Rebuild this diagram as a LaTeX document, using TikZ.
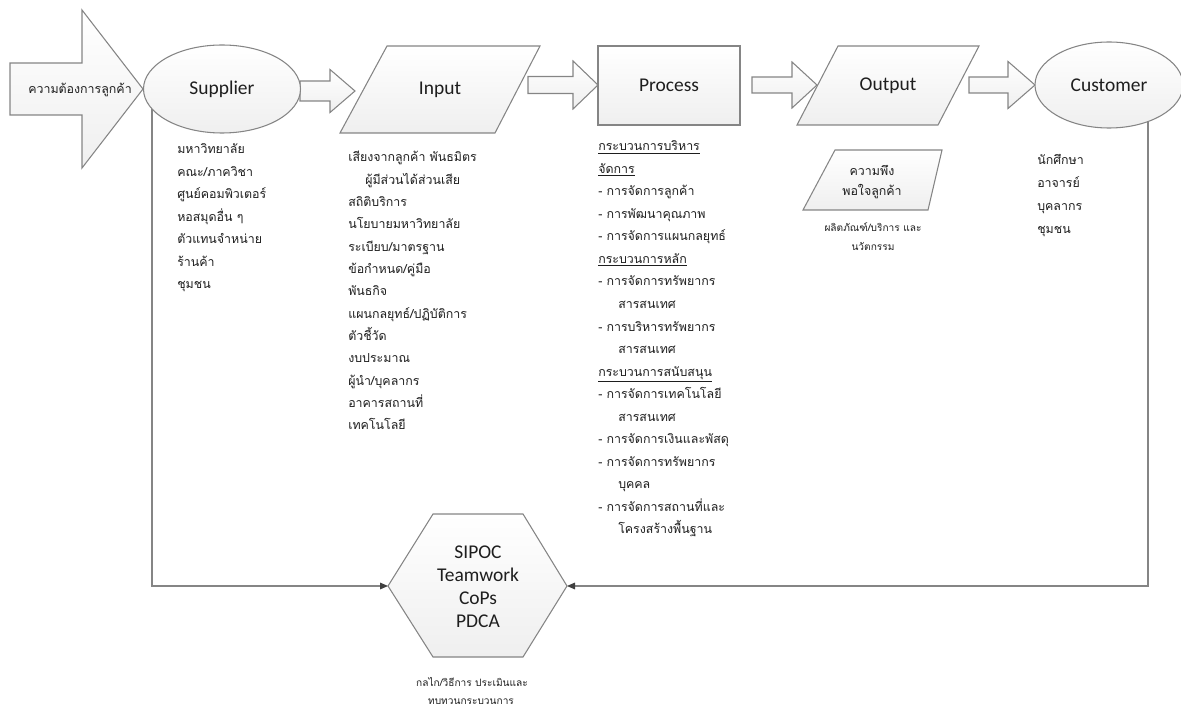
\documentclass[tikz,border=0pt]{standalone}
\usepackage{fontspec}
\setmainfont{Carlito}
\newfontfamily\thai[Script=Thai]{Loma}
\usetikzlibrary{arrows.meta,backgrounds,shapes.geometric}
\definecolor{lineg}{HTML}{858585}
\definecolor{fillg}{HTML}{EFEFEF}
\definecolor{txt}{HTML}{1E1E1E}
\definecolor{tipg}{HTML}{404040}
\newcommand\barrow[6]{\draw[shp] (#1,#4-#5) -- (#2,#4-#5) -- (#2,#4-#6) -- (#3,#4) -- (#2,#4+#6) -- (#2,#4+#5) -- (#1,#4+#5) -- cycle;}
\begin{document}
\begin{tikzpicture}[x=0.75pt,y=-0.75pt,
  shp/.style={draw=lineg, line width=0.8pt, top color=white, bottom color=fillg, line join=miter},
  lbl/.style={font=\fontsize{14.6}{17.5}\selectfont, text=txt, inner sep=0pt},
  hexlbl/.style={font=\fontsize{14.6}{17.25}\selectfont, text=txt, align=center, inner sep=0pt},
  th/.style={font=\thai\fontsize{9.3}{12}\selectfont, text=txt, inner sep=0pt, anchor=base west},
  thc/.style={font=\thai\fontsize{9.3}{12}\selectfont, text=txt, inner sep=0pt, anchor=base},
  ths/.style={font=\thai\fontsize{7.6}{10}\selectfont, text=txt, inner sep=0pt, anchor=base},
  fb/.style={draw=lineg, line width=0.8pt, -{Triangle[length=6pt,width=5pt,fill=tipg,color=tipg]}}]
\useasboundingbox (0,0) rectangle (1181,709);

% big left arrow
\draw[shp] (10,63) -- (82,63) -- (82,10) -- (143,89) -- (82,168) -- (82,115) -- (10,115) -- cycle;
\node[thc] (need) at (80,94) {ความต้องการลูกค้า};

% block arrows
\barrow{300}{330}{355}{91}{10}{21.5}
\barrow{528}{573}{598}{85}{8.5}{24}
\barrow{752}{792}{817}{85}{8}{23}
\barrow{969}{1008}{1035}{85}{8}{23.5}

% Supplier
\node[shp, ellipse, inner sep=0pt, minimum width=157*0.75pt, minimum height=88*0.75pt] (sup) at (222,89) {};
\node[lbl] (supt) at (sup.center) {Supplier};

% Input
\draw[shp] (387,46) -- (540,46) -- (495,133) -- (340,133) -- cycle;
\node[lbl] (inp) at (440,90) {Input};

% Process
\node[shp, rectangle, inner sep=0pt, minimum width=142*0.75pt, minimum height=79*0.75pt] (pro) at (669,85.5) {};
\node[lbl] (prot) at (pro.center) {Process};

% Output
\draw[shp] (838,46) -- (979,46) -- (938,125) -- (797,125) -- cycle;
\node[lbl] (out) at (888,86) {Output};

% Customer
\node[shp, ellipse, inner sep=0pt, minimum width=148*0.75pt, minimum height=86*0.75pt] (cus) at (1109,85) {};
\node[lbl] (cust) at (cus.center) {Customer};

% small parallelogram
\draw[shp] (835,150) -- (942,150) -- (928,210) -- (803,210) -- cycle;
\node[thc] (sat1) at (872,176) {ความพึง};
\node[thc] (sat2) at (872,196) {พอใจลูกค้า};
\node[ths] (prod1) at (873,232) {ผลิตภัณฑ์/บริการ และ};
\node[ths] (prod2) at (873,251) {นวัตกรรม};

% hexagon
\coordinate (hexW) at (388,586);
\coordinate (hexE) at (567,586);
\draw[shp] (433,514) -- (523,514) -- (hexE) -- (523,657) -- (433,657) -- (hexW) -- cycle;
\node[hexlbl] (hex) at (478,587) {SIPOC\\Teamwork\\CoPs\\PDCA};
\node[ths] (mech1) at (472,686) {กลไก/วิธีการ ประเมินและ};
\node[ths] (mech2) at (471,704) {ทบทวนกระบวนการ};

% feedback connectors
\coordinate (fbL) at (152,109);
\coordinate (fbR) at (1148,121.5);
\draw[fb] (fbL) |- (hexW);
\draw[fb] (fbR) |- (hexE);

% lists
\foreach \t [count=\i] in {มหาวิทยาลัย, คณะ/ภาควิชา, ศูนย์คอมพิวเตอร์, หอสมุดอื่น ๆ, ตัวแทนจำหน่าย, ร้านค้า, ชุมชน}
  \node[th] (sl\i) at (177,{154+22.5*(\i-1)}) {\t};

\foreach \t [count=\i] in {เสียงจากลูกค้า พันธมิตร, \hspace*{12.75pt}ผู้มีส่วนได้ส่วนเสีย, สถิติบริการ, นโยบายมหาวิทยาลัย, ระเบียบ/มาตรฐาน, ข้อกำหนด/คู่มือ, พันธกิจ, แผนกลยุทธ์/ปฏิบัติการ, ตัวชี้วัด, งบประมาณ, ผู้นำ/บุคลากร, อาคารสถานที่, เทคโนโลยี}
  \node[th] (il\i) at (348,{162+22.3*(\i-1)}) {\t};

\foreach \t [count=\i] in {\underline{กระบวนการบริหาร}, \underline{จัดการ}, - การจัดการลูกค้า, - การพัฒนาคุณภาพ, - การจัดการแผนกลยุทธ์, \underline{กระบวนการหลัก}, - การจัดการทรัพยากร, \hspace*{15pt}สารสนเทศ, - การบริหารทรัพยากร, \hspace*{15pt}สารสนเทศ, \underline{กระบวนการสนับสนุน}, - การจัดการเทคโนโลยี, \hspace*{15pt}สารสนเทศ, - การจัดการเงินและพัสดุ, - การจัดการทรัพยากร, \hspace*{15pt}บุคคล, - การจัดการสถานที่และ, \hspace*{15pt}โครงสร้างพื้นฐาน}
  \node[th] (pl\i) at (598,{151+22.5*(\i-1)}) {\t};

\foreach \t [count=\i] in {นักศึกษา, อาจารย์, บุคลากร, ชุมชน}
  \node[th] (cl\i) at (1037,{165+22.7*(\i-1)}) {\t};
\end{tikzpicture}
\end{document}
